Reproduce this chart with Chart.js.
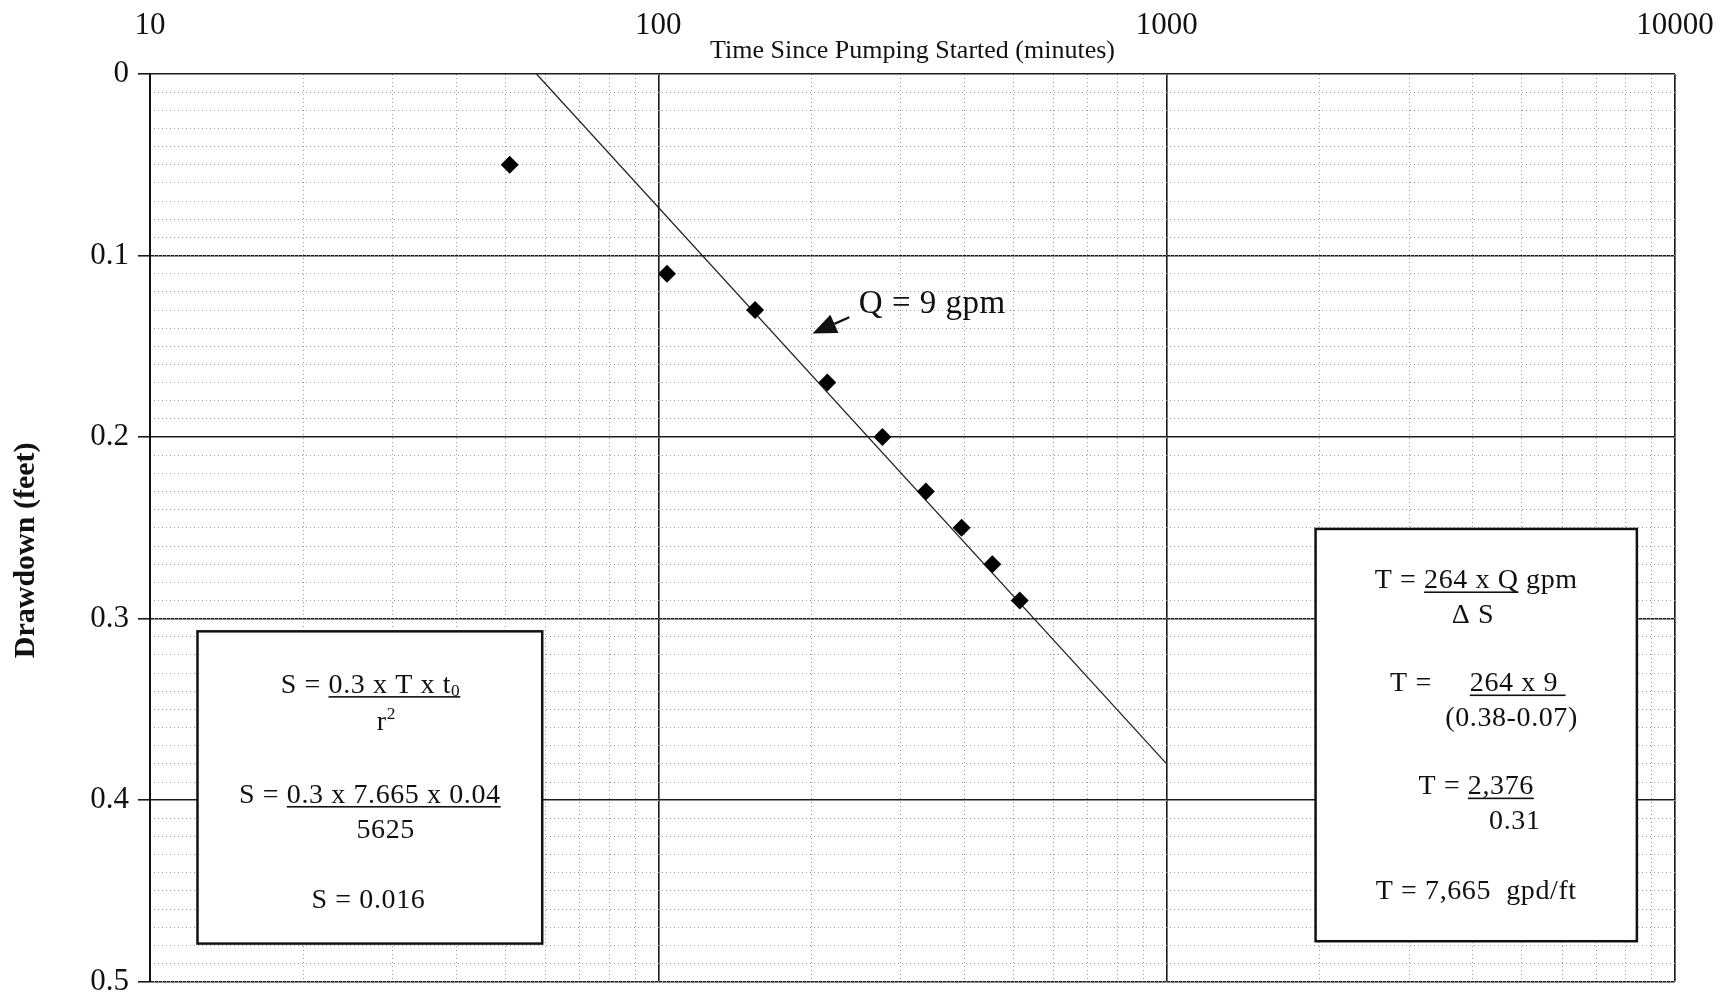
<!DOCTYPE html>
<html>
<head>
<meta charset="utf-8">
<script src="https://cdn.jsdelivr.net/npm/chart.js@4.4.0/dist/chart.umd.min.js"></script>
<style>
  html, body { margin: 0; padding: 0; background: #fff; }
  #wrap { width: 1720px; height: 1000px; }
</style>
</head>
<body>
<div id="wrap"><canvas id="drawdownChart"></canvas></div>
<script>
const timeMinutes = [51, 104, 155, 215, 276, 336, 395, 454, 514];
const drawdownFeet = [0.05, 0.11, 0.13, 0.17, 0.20, 0.23, 0.25, 0.27, 0.29];

// straight-line fit, t0 = 0.04 day
const fitTime = [57.6, 1000];
const fitDrawdown = [0, 0.38];

// tick labels
const timeTicks = [10, 100, 1000, 10000];
const drawdownTicks = [0, 0.1, 0.2, 0.3, 0.4, 0.5];

// "Q = 9 gpm" arrow (tail, head) and label anchor
const arrowTime = [237.5, 201];
const arrowDrawdown = [0.134, 0.143];
const labelTime = 248;
const labelDrawdown = 0.127;

// calculation boxes (data extents)
const storageBoxTime = [12.4, 59.1];
const storageBoxDrawdown = [0.307, 0.479];
const transBoxTime = [1963, 8414];
const transBoxDrawdown = [0.2506, 0.4777];

const SERIF = '"Liberation Serif", "Times New Roman", serif';
Chart.defaults.font.family = SERIF;
Chart.defaults.color = '#111';

// minor grid positions for semi-log paper
function minorTimeTicks() {
    const out = [];
    for (let d = 10; d < 10000; d *= 10) {
        for (let k = 1; k <= 9; k++) out.push({ value: k * d });
    }
    out.push({ value: 10000 });
    return out;
}
function minorDrawdownTicks() {
    const out = [];
    for (let i = 0; i <= 50; i++) out.push({ value: i / 100 });
    return out;
}

const storageLines = [
    { fx: 0.502, fy: 0.167, parts: [{ t: 'S = ' }, { t: '0.3 x T x t', u: 1 }, { t: '0', u: 1, sub: 1 }] },
    { fx: 0.548, fy: 0.288, parts: [{ t: 'r' }, { t: '2', sup: 1 }] },
    { fx: 0.500, fy: 0.519, parts: [{ t: 'S = ' }, { t: '0.3 x 7.665 x 0.04', u: 1 }] },
    { fx: 0.546, fy: 0.631, parts: [{ t: '5625' }] },
    { fx: 0.496, fy: 0.856, parts: [{ t: 'S = 0.016' }] }
];
const transLines = [
    { fx: 0.500, fy: 0.121, parts: [{ t: 'T = ' }, { t: '264 x Q', u: 1 }, { t: ' gpm' }] },
    { fx: 0.490, fy: 0.206, parts: [{ t: '\u0394 S' }] },
    { fx: 0.505, fy: 0.371, parts: [{ t: 'T =     ' }, { t: '264 x 9 ', u: 1 }] },
    { fx: 0.610, fy: 0.456, parts: [{ t: '(0.38-0.07)' }] },
    { fx: 0.500, fy: 0.621, parts: [{ t: 'T = ' }, { t: '2,376', u: 1 }] },
    { fx: 0.620, fy: 0.706, parts: [{ t: '0.31' }] },
    { fx: 0.500, fy: 0.876, parts: [{ t: 'T = 7,665  gpd/ft' }] }
];

function drawParts(ctx, parts, cx, cy, size) {
    ctx.letterSpacing = '0.6px';
    const widths = parts.map(p => {
        ctx.font = (p.sub || p.sup ? size * 0.62 : size) + 'px ' + SERIF;
        return ctx.measureText(p.t).width;
    });
    const total = widths.reduce((a, b) => a + b, 0);
    const base = cy + size * 0.33;
    let x = cx - total / 2;
    parts.forEach((p, i) => {
        ctx.font = (p.sub || p.sup ? size * 0.62 : size) + 'px ' + SERIF;
        const dy = p.sub ? size * 0.12 : p.sup ? -size * 0.42 : 0;
        ctx.fillText(p.t, x, base + dy);
        if (p.u) {
            ctx.fillRect(x, base + size * 0.12, widths[i], 1.6);
        }
        x += widths[i];
    });
    ctx.letterSpacing = '0px';
}

const notesPlugin = {
    id: 'notes',
    afterDatasetsDraw(chart) {
        const { ctx } = chart;
        const xs = chart.scales.x;
        const ys = chart.scales.y;
        ctx.save();
        ctx.fillStyle = '#111';
        ctx.strokeStyle = '#111';
        ctx.textBaseline = 'alphabetic';
        ctx.textAlign = 'left';

        // arrow
        const x0 = xs.getPixelForValue(arrowTime[0]), y0 = ys.getPixelForValue(arrowDrawdown[0]);
        const x1 = xs.getPixelForValue(arrowTime[1]), y1 = ys.getPixelForValue(arrowDrawdown[1]);
        const ang = Math.atan2(y1 - y0, x1 - x0);
        const hl = 24, hw = 10;
        const bx = x1 - hl * Math.cos(ang), by = y1 - hl * Math.sin(ang);
        ctx.lineWidth = 2.2;
        ctx.beginPath(); ctx.moveTo(x0, y0); ctx.lineTo(bx, by); ctx.stroke();
        ctx.beginPath();
        ctx.moveTo(x1, y1);
        ctx.lineTo(bx + hw * Math.sin(ang), by - hw * Math.cos(ang));
        ctx.lineTo(bx - hw * Math.sin(ang), by + hw * Math.cos(ang));
        ctx.closePath(); ctx.fill();

        ctx.font = '33px ' + SERIF;
        ctx.textBaseline = 'middle';
        ctx.letterSpacing = '0.5px';
        ctx.fillText('Q = 9 gpm', xs.getPixelForValue(labelTime), ys.getPixelForValue(labelDrawdown));
        ctx.letterSpacing = '0px';
        ctx.textBaseline = 'alphabetic';

        // boxes
        [[storageBoxTime, storageBoxDrawdown, storageLines], [transBoxTime, transBoxDrawdown, transLines]].forEach(([bt, bd, lines]) => {
            const l = xs.getPixelForValue(bt[0]), r = xs.getPixelForValue(bt[1]);
            const t = ys.getPixelForValue(bd[0]), b = ys.getPixelForValue(bd[1]);
            ctx.fillStyle = '#fff';
            ctx.fillRect(l, t, r - l, b - t);
            ctx.lineWidth = 2.5;
            ctx.strokeRect(l, t, r - l, b - t);
            ctx.fillStyle = '#111';
            lines.forEach(line => drawParts(ctx, line.parts, l + line.fx * (r - l), t + line.fy * (b - t), 28));
        });
        ctx.restore();
    }
};

const ctx = document.getElementById('drawdownChart').getContext('2d');
const drawdownChart = new Chart(ctx, {
    type: 'scatter',
    data: {
        datasets: [{
            label: 'Drawdown',
            data: timeMinutes.map((t, i) => ({ x: t, y: drawdownFeet[i] })),
            pointStyle: 'rectRot',
            pointRadius: 9,
            backgroundColor: '#000',
            borderColor: '#000',
            borderWidth: 0
        }, {
            type: 'line',
            label: 'Fit',
            data: fitTime.map((t, i) => ({ x: t, y: fitDrawdown[i] })),
            borderColor: '#222',
            borderWidth: 1.3,
            pointRadius: 0,
            fill: false
        }]
    },
    options: {
        responsive: true,
        maintainAspectRatio: false,
        animation: false,
        layout: { padding: { left: 0, right: 45, top: 0, bottom: 0 } },
        plugins: { legend: { display: false }, tooltip: { enabled: false } },
        scales: {
            x: {
                type: 'logarithmic',
                position: 'top',
                weight: 0,
                min: 10,
                max: 10000,
                afterBuildTicks: s => { s.ticks = minorTimeTicks(); },
                afterFit: s => { s.height = 36; },
                ticks: { display: false },
                grid: { color: '#9a9a9a', lineWidth: 1, drawTicks: false },
                border: { display: false, dash: [1, 3] },
                title: {
                    display: true,
                    text: 'Time Since Pumping Started (minutes)',
                    font: { size: 26, lineHeight: 1 },
                    padding: { top: 0, bottom: 0 }
                }
            },
            xMajor: {
                type: 'logarithmic',
                position: 'top',
                weight: 1,
                min: 10,
                max: 10000,
                afterBuildTicks: s => { s.ticks = timeTicks.map(v => ({ value: v })); },
                afterFit: s => { s.height = 38; },
                ticks: {
                    font: { size: 31, lineHeight: 1 },
                    padding: -3,
                    maxRotation: 0,
                    autoSkip: false,
                    callback: v => String(v)
                },
                grid: { color: '#1a1a1a', lineWidth: 1.6, drawTicks: false },
                border: { display: false }
            },
            y: {
                type: 'linear',
                position: 'left',
                reverse: true,
                weight: 1,
                min: 0,
                max: 0.5,
                afterBuildTicks: s => { s.ticks = drawdownTicks.map(v => ({ value: v })); },
                afterFit: s => { s.width = 150; },
                ticks: {
                    font: { size: 31, lineHeight: 0.6 },
                    padding: 9,
                    autoSkip: false,
                    callback: v => String(+v.toFixed(1))
                },
                grid: { color: '#1a1a1a', lineWidth: 1.6, tickLength: 12, tickColor: '#1a1a1a' },
                border: { display: true, color: '#111', width: 2 },
                title: {
                    display: true,
                    text: 'Drawdown (feet)\u00a0\u00a0\u00a0\u00a0\u00a0\u00a0',
                    font: { size: 30, weight: 'bold' },
                    padding: { top: 8, bottom: 0 }
                }
            },
            yMinor: {
                type: 'linear',
                position: 'left',
                reverse: true,
                weight: 0,
                min: 0,
                max: 0.5,
                afterBuildTicks: s => { s.ticks = minorDrawdownTicks(); },
                afterFit: s => { s.width = 0; },
                ticks: { display: false },
                grid: { color: '#9a9a9a', lineWidth: 1, drawTicks: false },
                border: { display: false, dash: [1, 3] }
            }
        }
    },
    plugins: [notesPlugin]
});
</script>
</body>
</html>
